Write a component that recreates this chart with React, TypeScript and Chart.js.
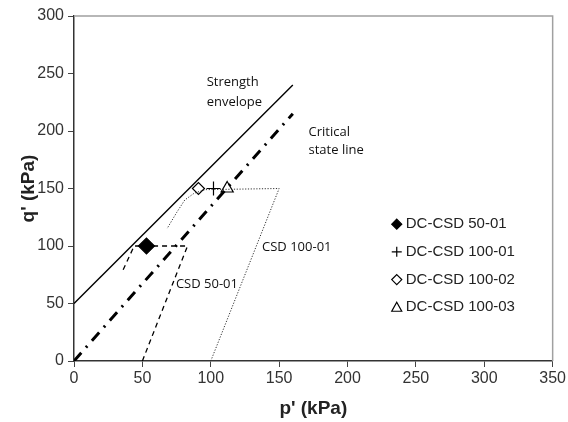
import { useEffect, useRef } from "react";
import { Chart, registerables } from "chart.js";

Chart.register(...registerables);

// ---- data (p', q' in kPa) ----
const strengthEnvelope = [
  { x: 0, y: 50 },
  { x: 160, y: 240 },
];
const criticalStateLine = [
  { x: 0, y: 0 },
  { x: 160, y: 215 },
];
const csd5001Path = [
  { x: 50, y: 0 },
  { x: 83, y: 100 },
  { x: 44, y: 100 },
  { x: 35, y: 77 },
];
const csd10001Path = [
  { x: 100, y: 0 },
  { x: 150, y: 150 },
  { x: 96, y: 149 },
  { x: 88, y: 146 },
  { x: 81, y: 140 },
  { x: 75, y: 129 },
  { x: 68, y: 115 },
];

const markerNames = ["DC-CSD 50-01", "DC-CSD 100-01", "DC-CSD 100-02", "DC-CSD 100-03"];
const markerP = [53, 102, 91, 112];
const markerQ = [100, 150, 150, 150];
const markerStyles = ["rectRot", "cross", "rectRot", "triangle"];
const markerFilled = [true, false, false, false];
const markerRadius = [8, 7, 6, 7];

const xTicks = [0, 50, 100, 150, 200, 250, 300, 350];
const yTicks = [0, 50, 100, 150, 200, 250, 300];

const annotations = [
  { text: "Strength", p: 97, q: 242 },
  { text: "envelope", p: 97, q: 225 },
  { text: "Critical", p: 171.5, q: 199 },
  { text: "state line", p: 171.5, q: 183 },
  { text: "CSD 50-01", p: 74.5, q: 67 },
  { text: "CSD 100-01", p: 137.5, q: 99 },
];

const TICK_FONT = "'Liberation Sans', Arial, sans-serif";
const NOTE_FONT = "'Open Sans', 'Noto Sans', sans-serif";

const framePlugin = {
  id: "frame",
  afterDatasetsDraw(chart: any) {
    const { ctx, chartArea } = chart;
    ctx.save();
    ctx.strokeStyle = "#a0a0a0";
    ctx.lineWidth = 1.5;
    ctx.beginPath();
    ctx.moveTo(chartArea.left, chartArea.top);
    ctx.lineTo(chartArea.right, chartArea.top);
    ctx.lineTo(chartArea.right, chartArea.bottom);
    ctx.stroke();
    ctx.restore();
  },
};

const notesPlugin = {
  id: "notes",
  afterDatasetsDraw(chart: any) {
    const { ctx, scales } = chart;
    ctx.save();
    ctx.fillStyle = "#111";
    ctx.font = `13px ${NOTE_FONT}`;
    ctx.textAlign = "left";
    ctx.textBaseline = "middle";
    annotations.forEach((a) => {
      ctx.fillText(a.text, scales.x.getPixelForValue(a.p), scales.y.getPixelForValue(a.q));
    });
    ctx.restore();
  },
};

function drawMarker(ctx: CanvasRenderingContext2D, style: string, x: number, y: number, r: number, filled: boolean) {
  ctx.beginPath();
  if (style === "rectRot") {
    ctx.moveTo(x, y - r);
    ctx.lineTo(x + r, y);
    ctx.lineTo(x, y + r);
    ctx.lineTo(x - r, y);
    ctx.closePath();
    ctx.fillStyle = filled ? "#000" : "#fff";
    ctx.fill();
    ctx.stroke();
  } else if (style === "cross") {
    ctx.moveTo(x - r, y);
    ctx.lineTo(x + r, y);
    ctx.moveTo(x, y - r);
    ctx.lineTo(x, y + r);
    ctx.stroke();
  } else if (style === "triangle") {
    ctx.moveTo(x, y - r);
    ctx.lineTo(x + r, y + r * 0.8);
    ctx.lineTo(x - r, y + r * 0.8);
    ctx.closePath();
    ctx.fillStyle = "#fff";
    ctx.fill();
    ctx.stroke();
  }
}

const legendPlugin = {
  id: "customLegend",
  afterDraw(chart: any) {
    const { ctx, scales } = chart;
    ctx.save();
    const x0 = scales.x.getPixelForValue(236);
    const yStart = scales.y.getPixelForValue(119);
    const step = 27.7;
    markerNames.forEach((name, i) => {
      const y = yStart + i * step;
      ctx.lineWidth = 1.2;
      ctx.strokeStyle = "#000";
      drawMarker(ctx, markerStyles[i], x0, y, 5, markerFilled[i]);
      ctx.fillStyle = "#222";
      ctx.font = `15px ${TICK_FONT}`;
      ctx.textAlign = "left";
      ctx.textBaseline = "middle";
      ctx.fillText(name, x0 + 9, y);
    });
    ctx.restore();
  },
};

export default function App() {
  const ref = useRef<HTMLCanvasElement | null>(null);

  useEffect(() => {
    if (!ref.current) return;
    const lineDatasets: any[] = [
      {
        label: "Strength envelope",
        data: strengthEnvelope,
        showLine: true,
        borderColor: "#000",
        borderWidth: 1.4,
        pointRadius: 0,
      },
      {
        label: "Critical state line",
        data: criticalStateLine,
        showLine: true,
        borderColor: "#000",
        borderWidth: 3,
        borderDash: [11, 7, 2, 7],
        pointRadius: 0,
      },
      {
        label: "CSD 50-01",
        data: csd5001Path,
        showLine: true,
        borderColor: "#000",
        borderWidth: 1.3,
        borderDash: [5, 4],
        pointRadius: 0,
      },
      {
        label: "CSD 100-01",
        data: csd10001Path,
        showLine: true,
        borderColor: "#333",
        borderWidth: 1,
        borderDash: [1.2, 1.6],
        pointRadius: 0,
      },
    ];
    const markerDatasets = markerNames.map((name, i) => ({
      label: name,
      data: [{ x: markerP[i], y: markerQ[i] }],
      showLine: false,
      pointStyle: markerStyles[i],
      pointRadius: markerRadius[i],
      pointBackgroundColor: markerFilled[i] ? "#000" : "#fff",
      pointBorderColor: "#000",
      pointBorderWidth: 1.2,
    }));

    const chart = new Chart(ref.current, {
      type: "scatter",
      data: { datasets: [...lineDatasets, ...markerDatasets] },
      options: {
        responsive: false,
        animation: false,
        layout: { padding: { top: 16, right: 15, left: 0, bottom: 0 } },
        plugins: {
          legend: { display: false },
          tooltip: { enabled: false },
        },
        scales: {
          x: {
            type: "linear",
            min: 0,
            max: 350,
            afterBuildTicks: (s: any) => {
              s.ticks = xTicks.map((v) => ({ value: v }));
            },
            afterFit: (s: any) => {
              s.height = 61;
            },
            grid: {
              display: true,
              drawOnChartArea: false,
              drawTicks: true,
              tickLength: 6,
              color: "#444",
            },
            border: { display: true, color: "#333", width: 1.5 },
            ticks: {
              color: "#333",
              font: { family: TICK_FONT, size: 16 },
              padding: 2,
              maxRotation: 0,
            },
            title: {
              display: true,
              text: "p' (kPa)",
              color: "#222",
              font: { family: TICK_FONT, size: 19, weight: "bold" },
              padding: { top: 4, bottom: 2 },
            },
          },
          y: {
            type: "linear",
            min: 0,
            max: 300,
            afterBuildTicks: (s: any) => {
              s.ticks = yTicks.map((v) => ({ value: v }));
            },
            afterFit: (s: any) => {
              s.width = 74;
            },
            grid: {
              display: true,
              drawOnChartArea: false,
              drawTicks: true,
              tickLength: 6,
              color: "#444",
            },
            border: { display: true, color: "#333", width: 1.5 },
            ticks: {
              color: "#333",
              font: { family: TICK_FONT, size: 16 },
              padding: 4,
            },
            title: {
              display: true,
              text: "q' (kPa)",
              color: "#222",
              font: { family: TICK_FONT, size: 19, weight: "bold" },
              padding: { top: 17, bottom: 0 },
            },
          },
        },
      } as any,
      plugins: [framePlugin, notesPlugin, legendPlugin],
    });
    return () => chart.destroy();
  }, []);

  return (
    <div style={{ position: "absolute", left: 0, top: 0, width: 568, height: 422, background: "#fff" }}>
      <canvas ref={ref} width={568} height={422} />
    </div>
  );
}
